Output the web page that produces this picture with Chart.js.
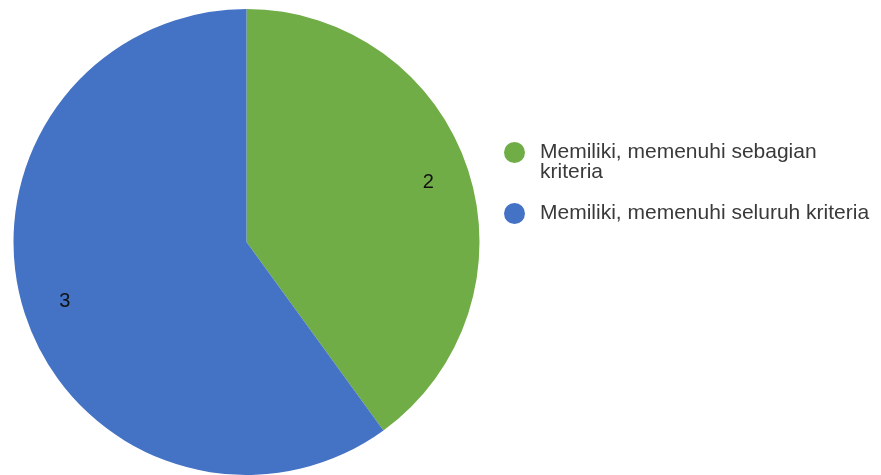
<!DOCTYPE html>
<html>
<head>
<meta charset="utf-8">
<script src="https://cdn.jsdelivr.net/npm/chart.js"></script>
<style>
  body { margin: 0; background: #fff; }
  #wrap { position: relative; width: 881px; height: 475px; }
  #legend { position: absolute; left: 504px; top: 141px; font-family: "Liberation Sans", Arial, sans-serif; font-size: 21px; color: #3a3a3a; }
  .item { position: relative; padding-left: 36px; width: 338px; line-height: 20px; margin-bottom: 21px; }
  .dot { position: absolute; left: 0; top: 1px; width: 21px; height: 21px; border-radius: 50%; }
</style>
</head>
<body>
<div id="wrap">
  <canvas id="myChart" width="881" height="475"></canvas>
  <div id="legend"></div>
</div>
<script>
var labels = ['Memiliki, memenuhi sebagian kriteria', 'Memiliki, memenuhi seluruh kriteria'];
var values = [2, 3];
var colors = ['#70AD47', '#4472C4'];

var legendEl = document.getElementById('legend');
labels.forEach(function (l, i) {
    var d = document.createElement('div');
    d.className = 'item';
    d.innerHTML = '<span class="dot" style="background:' + colors[i] + '"></span>' + l;
    legendEl.appendChild(d);
});

var sliceLabels = {
    id: 'sliceLabels',
    afterDatasetsDraw: function (chart) {
        var c = chart.ctx;
        var meta = chart.getDatasetMeta(0);
        c.save();
        c.font = '20px "Liberation Sans", Arial, sans-serif';
        c.fillStyle = '#111';
        c.textAlign = 'center';
        c.textBaseline = 'middle';
        meta.data.forEach(function (arc, i) {
            var p = arc.getProps(['x', 'y', 'startAngle', 'endAngle', 'outerRadius']);
            var mid = (p.startAngle + p.endAngle) / 2;
            var r = p.outerRadius * 0.82;
            c.fillText(values[i], p.x + Math.cos(mid) * r, p.y + Math.sin(mid) * r);
        });
        c.restore();
    }
};

var ctx = document.getElementById('myChart').getContext('2d');
var myChart = new Chart(ctx, {
    type: 'pie',
    data: {
        labels: labels,
        datasets: [{
            data: values,
            backgroundColor: colors,
            borderWidth: 0
        }]
    },
    options: {
        responsive: false,
        animation: false,
        layout: { padding: { left: 13, right: 401, top: 9, bottom: 0 } },
        plugins: {
            legend: { display: false },
            tooltip: { enabled: false }
        }
    },
    plugins: [sliceLabels]
});
</script>
</body>
</html>
